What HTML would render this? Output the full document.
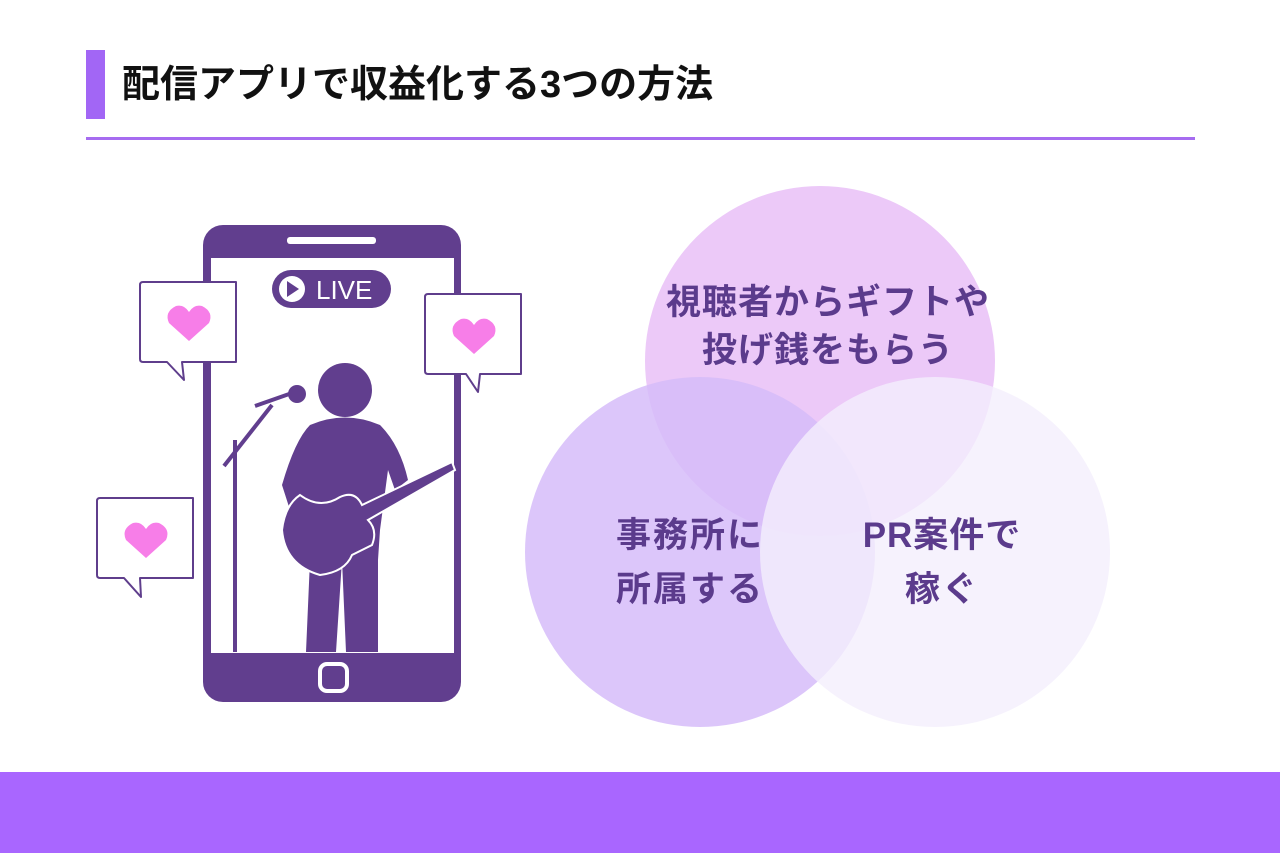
<!DOCTYPE html>
<html><head><meta charset="utf-8"><style>
html,body{margin:0;padding:0;background:#fff;width:1280px;height:853px;overflow:hidden;position:relative;font-family:"Liberation Sans","Noto Sans CJK JP",sans-serif}
</style></head><body>
<div style="position:absolute;left:86px;top:50px;width:19px;height:69px;background:#a266f5"></div>
<div style="position:absolute;left:122px;top:60px;font-size:38px;font-weight:bold;color:#111;line-height:50px">配信アプリで収益化する3つの方法</div>
<div style="position:absolute;left:86px;top:137px;width:1109px;height:3px;background:#a66cf0"></div>
<div style="position:absolute;left:0;top:772px;width:1280px;height:81px;background:#a966ff"></div>
<svg width="1280" height="853" style="position:absolute;left:0;top:0" xmlns="http://www.w3.org/2000/svg">
<circle cx="820" cy="361" r="175" fill="#ecc9f8"/>
<circle cx="700" cy="552" r="175" fill="#d6bcf9" fill-opacity="0.85"/>
<circle cx="935" cy="552" r="175" fill="#f4effd" fill-opacity="0.8"/>
<g font-family="Liberation Sans, Noto Sans CJK JP, sans-serif" font-weight="bold" font-size="35" fill="#5b3b8c" text-anchor="middle">
<text x="828" y="314" letter-spacing="1">視聴者からギフトや</text>
<text x="828" y="362" letter-spacing="1">投げ銭をもらう</text>
<text x="690" y="547" letter-spacing="2">事務所に</text>
<text x="690" y="601" letter-spacing="2">所属する</text>
<text x="942" y="547" letter-spacing="1">PR案件で</text>
<text x="942" y="601" letter-spacing="2">稼ぐ</text>
</g>
<!-- phone -->
<rect x="203" y="225" width="258" height="477" rx="20" fill="#613e8e"/>
<rect x="211" y="258" width="243" height="395" fill="#fff"/>
<rect x="287" y="237" width="89" height="7" rx="3" fill="#fff"/>
<rect x="320" y="664" width="27" height="27" rx="7" fill="none" stroke="#fff" stroke-width="4"/>
<rect x="272" y="270" width="119" height="38" rx="19" fill="#613e8e"/>
<circle cx="292" cy="289" r="13" fill="#fff"/>
<path d="M287 281 L299 289 L287 297 Z" fill="#613e8e"/>
<text x="316" y="299" font-family="Liberation Sans, sans-serif" font-size="26" fill="#fff">LIVE</text>
<!-- mic stand -->
<line x1="235" y1="440" x2="235" y2="652" stroke="#613e8e" stroke-width="4"/>
<line x1="224" y1="466" x2="272" y2="405" stroke="#613e8e" stroke-width="4"/>
<line x1="255" y1="406" x2="292" y2="393" stroke="#613e8e" stroke-width="4"/>
<circle cx="297" cy="394" r="9" fill="#613e8e"/>
<!-- person -->
<circle cx="345" cy="390" r="27" fill="#613e8e"/>
<path d="M310 425 Q345 410 380 425 Q400 445 408 480 L395 490 L388 470 L380 530 L378 560 L378 652 L346 652 L342 560 L336 652 L306 652 L310 560 L300 540 L290 510 L282 485 Q295 440 310 425 Z" fill="#613e8e"/>
<!-- guitar -->
<path d="M300 495 Q285 505 282 530 Q285 565 320 575 Q345 572 352 555 L372 545 Q378 530 368 520 L455 470 L452 462 L362 505 Q355 490 340 497 Q320 510 300 495 Z" fill="#613e8e" stroke="#fff" stroke-width="2"/>
<!-- bubbles -->
<g fill="#fff" stroke="#5f3e8c" stroke-width="2" stroke-linejoin="round">
<path d="M143 282 H236 V362 H182 L184 380 L167 362 H143 Q140 362 140 359 V285 Q140 282 143 282 Z"/>
<path d="M428 294 H521 V374 H480 L478 392 L466 374 H428 Q425 374 425 371 V297 Q425 294 428 294 Z"/>
<path d="M100 498 H193 V578 H140 L141 597 L124 578 H100 Q97 578 97 575 V501 Q97 498 100 498 Z"/>
</g>
<g fill="#f77ee8">
<path d="M189 341 L169 323 Q164 312 176 306 Q184 304 189 312 Q194 304 202 306 Q214 312 209 323 Z"/>
<path d="M474 354 L454 336 Q449 325 461 319 Q469 317 474 325 Q479 317 487 319 Q499 325 494 336 Z"/>
<path d="M146 558 L126 540 Q121 529 133 523 Q141 521 146 529 Q151 521 159 523 Q171 529 166 540 Z"/>
</g>
</svg>
</body></html>
